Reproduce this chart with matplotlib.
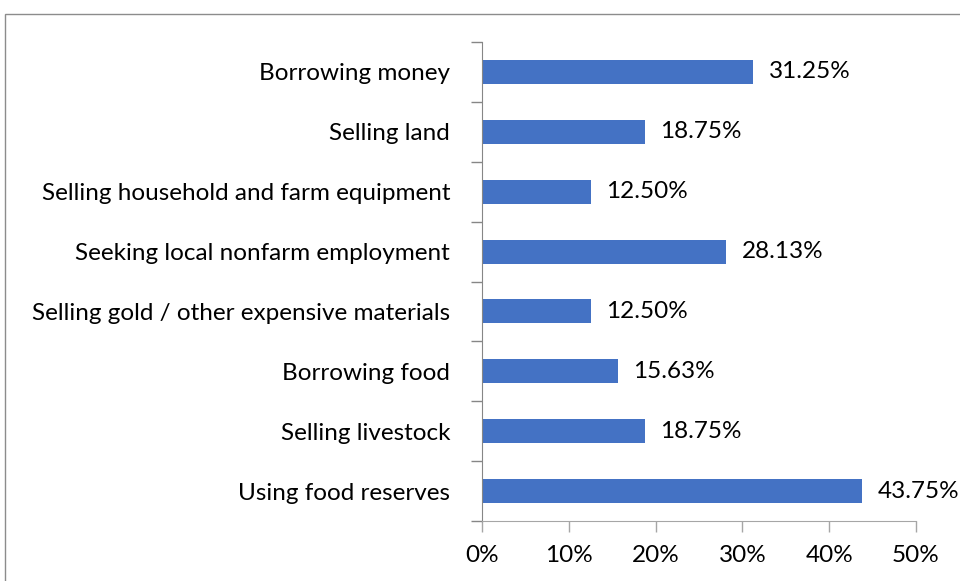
import matplotlib.pyplot as plt
from matplotlib.patches import Rectangle
from matplotlib.ticker import FuncFormatter

strategies = [
    'Using food reserves',
    'Selling livestock',
    'Borrowing food',
    'Selling gold / other expensive materials',
    'Seeking local nonfarm employment',
    'Selling household and farm equipment',
    'Selling land',
    'Borrowing money',
]
shares = [43.75, 18.75, 15.63, 12.50, 28.13, 12.50, 18.75, 31.25]

plt.rcParams['font.family'] = ['Lato', 'DejaVu Sans']
fs = 17.5

fig = plt.figure(figsize=(9.6, 5.81), dpi=100)
ax = fig.add_axes([482 / 960, 1 - 521 / 581, (916 - 482) / 960, (521 - 42) / 581])

pos = range(len(strategies))
ax.barh(pos, shares, height=0.4, color='#4472C4')
for y, v in zip(pos, shares):
    ax.text(v + 1.8, y, f'{v:.2f}%', va='center', ha='left', fontsize=fs)

ax.set_xlim(0, 50)
ax.set_ylim(-0.5, len(strategies) - 0.5)
ax.set_xticks(range(0, 51, 10))
ax.xaxis.set_major_formatter(FuncFormatter(lambda x, _: f'{x:.0f}%'))
ax.set_yticks([i - 0.5 for i in range(len(strategies) + 1)], minor=False)
ax.set_yticklabels([])
ax.set_yticks(list(pos), minor=True)
ax.set_yticklabels(strategies, minor=True)
ax.tick_params(axis='y', which='major', length=8, color='#868686', width=1)
ax.tick_params(axis='y', which='minor', length=0, pad=23, labelsize=fs)
ax.tick_params(axis='x', length=8, color='#A6A6A6', width=1, labelsize=fs, pad=9)

for s in ['top', 'right']:
    ax.spines[s].set_visible(False)
ax.spines['left'].set_color('#868686')
ax.spines['bottom'].set_color('#A6A6A6')

# chart frame, cropped at right and bottom
fig.patches.append(Rectangle((4.5 / 960, -0.1), 1.2, 1.1 - 13.5 / 581,
                             transform=fig.transFigure, fill=False,
                             edgecolor='#8C8C8C', linewidth=1))

fig.savefig('out.png', dpi=100)
